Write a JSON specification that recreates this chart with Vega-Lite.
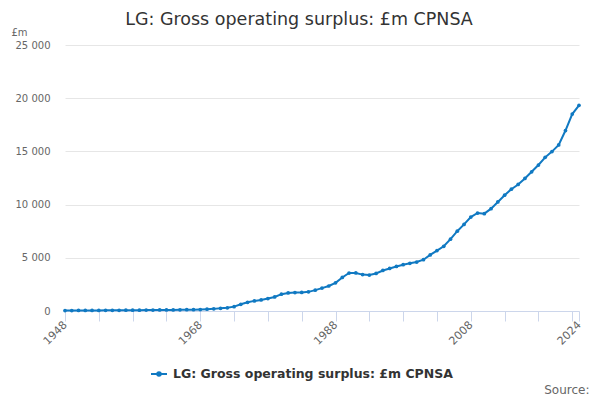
{
  "$schema": "https://vega.github.io/schema/vega-lite/v6.json",
  "width": 514,
  "height": 266,
  "autosize": {"type": "none"},
  "padding": {"left": 65, "top": 45, "right": 21, "bottom": 89},
  "background": "white",
  "config": {
    "font": "DejaVu Sans",
    "view": {"stroke": null}
  },
  "title": {
    "text": "LG: Gross operating surplus: £m CPNSA",
    "fontSize": 17.5,
    "fontWeight": "normal",
    "color": "#333333",
    "anchor": "middle",
    "frame": "group",
    "dx": -23,
    "dy": 19,
    "offset": 18
  },
  "data": {
    "values": [
      {"year": 1948, "value": 40}, {"year": 1949, "value": 45}, {"year": 1950, "value": 48},
      {"year": 1951, "value": 50}, {"year": 1952, "value": 55}, {"year": 1953, "value": 58},
      {"year": 1954, "value": 62}, {"year": 1955, "value": 65}, {"year": 1956, "value": 70},
      {"year": 1957, "value": 74}, {"year": 1958, "value": 78}, {"year": 1959, "value": 82},
      {"year": 1960, "value": 86}, {"year": 1961, "value": 90}, {"year": 1962, "value": 95},
      {"year": 1963, "value": 100}, {"year": 1964, "value": 105}, {"year": 1965, "value": 112},
      {"year": 1966, "value": 120}, {"year": 1967, "value": 128}, {"year": 1968, "value": 140},
      {"year": 1969, "value": 165}, {"year": 1970, "value": 200}, {"year": 1971, "value": 250},
      {"year": 1972, "value": 300}, {"year": 1973, "value": 410}, {"year": 1974, "value": 630},
      {"year": 1975, "value": 820}, {"year": 1976, "value": 950}, {"year": 1977, "value": 1040},
      {"year": 1978, "value": 1170}, {"year": 1979, "value": 1320}, {"year": 1980, "value": 1580},
      {"year": 1981, "value": 1700}, {"year": 1982, "value": 1730}, {"year": 1983, "value": 1740},
      {"year": 1984, "value": 1800}, {"year": 1985, "value": 1960}, {"year": 1986, "value": 2150},
      {"year": 1987, "value": 2350}, {"year": 1988, "value": 2650}, {"year": 1989, "value": 3150},
      {"year": 1990, "value": 3570}, {"year": 1991, "value": 3580}, {"year": 1992, "value": 3420},
      {"year": 1993, "value": 3380}, {"year": 1994, "value": 3530}, {"year": 1995, "value": 3810},
      {"year": 1996, "value": 4000}, {"year": 1997, "value": 4190}, {"year": 1998, "value": 4350},
      {"year": 1999, "value": 4480}, {"year": 2000, "value": 4600}, {"year": 2001, "value": 4820},
      {"year": 2002, "value": 5270}, {"year": 2003, "value": 5680}, {"year": 2004, "value": 6080},
      {"year": 2005, "value": 6750}, {"year": 2006, "value": 7500}, {"year": 2007, "value": 8140},
      {"year": 2008, "value": 8830}, {"year": 2009, "value": 9210}, {"year": 2010, "value": 9150},
      {"year": 2011, "value": 9620}, {"year": 2012, "value": 10250}, {"year": 2013, "value": 10880},
      {"year": 2014, "value": 11450}, {"year": 2015, "value": 11890}, {"year": 2016, "value": 12460},
      {"year": 2017, "value": 13080}, {"year": 2018, "value": 13720}, {"year": 2019, "value": 14440},
      {"year": 2020, "value": 14980}, {"year": 2021, "value": 15610}, {"year": 2022, "value": 16960},
      {"year": 2023, "value": 18510}, {"year": 2024, "value": 19330}
    ]
  },
  "mark": {"type": "line", "strokeWidth": 2, "point": {"size": 14, "filled": true}},
  "encoding": {
    "x": {
      "field": "year",
      "type": "quantitative",
      "scale": {"domain": [1948, 2024], "nice": false, "zero": false},
      "axis": {
        "values": [1948, 1953, 1958, 1963, 1968, 1973, 1978, 1983, 1988, 1993, 1998, 2003, 2008, 2013, 2018, 2023, 2024],
        "labelExpr": "indexof([1948, 1968, 1988, 2008, 2024], datum.value) >= 0 ? datum.value + '' : ''",
        "labelAngle": -45,
        "labelAlign": "right",
        "labelBaseline": "middle",
        "labelOverlap": false,
        "labelFontSize": 11,
        "labelColor": "#666666",
        "labelPadding": 2,
        "tickColor": "#ccd6eb",
        "tickSize": 10,
        "domainColor": "#ccd6eb",
        "grid": false,
        "title": "Source:",
        "titleFontWeight": "normal",
        "titleFontSize": 12,
        "titleColor": "#666666",
        "titleAlign": "right",
        "titleBaseline": "middle",
        "titleAnchor": null,
        "titleX": 524,
        "titleY": 78
      }
    },
    "y": {
      "field": "value",
      "type": "quantitative",
      "scale": {"domain": [0, 25000], "nice": false},
      "axis": {
        "values": [0, 5000, 10000, 15000, 20000, 25000],
        "format": ",d",
        "labelExpr": "replace(datum.label, ',', ' ')",
        "labelFontSize": 10,
        "labelColor": "#666666",
        "labelPadding": 15,
        "ticks": false,
        "domain": false,
        "gridColor": "#e6e6e6",
        "title": "£m",
        "titleAngle": 0,
        "titleFontWeight": "normal",
        "titleFontSize": 10,
        "titleColor": "#666666",
        "titleAlign": "left",
        "titleBaseline": "middle",
        "titleX": -54,
        "titleY": -13
      }
    },
    "color": {
      "datum": "LG: Gross operating surplus: £m CPNSA",
      "scale": {"range": ["#1079c2"]},
      "legend": {
        "title": null,
        "orient": "none",
        "legendX": 85,
        "legendY": 320,
        "labelFontSize": 12.5,
        "labelFontWeight": "bold",
        "labelColor": "#333333",
        "labelLimit": 400,
        "symbolType": "M-1,0H1M-0.22,0A0.22,0.22,0,1,1,0.22,0A0.22,0.22,0,1,1,-0.22,0Z",
        "symbolSize": 256,
        "symbolStrokeWidth": 2,
        "symbolFillColor": "#1079c2",
        "labelOffset": 5
      }
    }
  }
}
